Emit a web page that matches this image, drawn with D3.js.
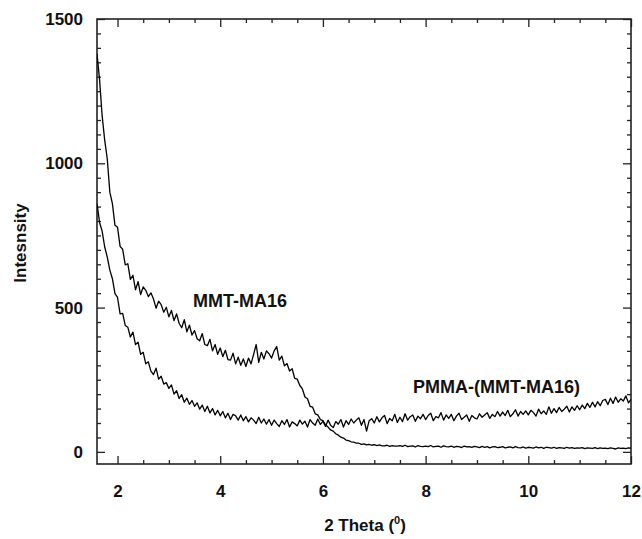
<!DOCTYPE html>
<html><head><meta charset="utf-8">
<script src="https://cdn.jsdelivr.net/npm/d3@7"></script>
<style>
body{margin:0;background:#fff;}
svg text{font-family:"Liberation Sans",Arial,Helvetica,sans-serif;font-weight:bold;fill:#111;}
</style>
</head><body>
<svg id="chart" width="642" height="539"></svg>
<script>
// 2-theta sampling positions (degrees)
const twoTheta = [
1.60,1.65,1.70,1.75,1.80,1.85,1.90,1.95,
2.00,2.05,2.10,2.15,2.20,2.25,2.30,2.35,2.40,2.45,
2.50,2.55,2.60,2.65,2.70,2.75,2.80,2.85,2.90,2.95,
3.00,3.05,3.10,3.15,3.20,3.25,3.30,3.35,3.40,3.45,
3.50,3.55,3.60,3.65,3.70,3.75,3.80,3.85,3.90,3.95,
4.00,4.05,4.10,4.15,4.20,4.25,4.30,4.35,4.40,4.45,
4.50,4.55,4.60,4.65,4.70,4.75,4.80,4.85,4.90,4.95,
5.00,5.05,5.10,5.15,5.20,5.25,5.30,5.35,5.40,5.45,
5.50,5.55,5.60,5.65,5.70,5.75,5.80,5.85,5.90,5.95,
6.00,6.05,6.10,6.15,6.20,6.25,6.30,6.35,6.40,6.45,
6.50,6.55,6.60,6.65,6.70,6.75,6.80,6.85,6.90,6.95,
7.00,7.05,7.10,7.15,7.20,7.25,7.30,7.35,7.40,7.45,
7.50,7.55,7.60,7.65,7.70,7.75,7.80,7.85,7.90,7.95,
8.00,8.05,8.10,8.15,8.20,8.25,8.30,8.35,8.40,8.45,
8.50,8.55,8.60,8.65,8.70,8.75,8.80,8.85,8.90,8.95,
9.00,9.05,9.10,9.15,9.20,9.25,9.30,9.35,9.40,9.45,
9.50,9.55,9.60,9.65,9.70,9.75,9.80,9.85,9.90,9.95,
10.00,10.05,10.10,10.15,10.20,10.25,10.30,10.35,10.40,10.45,
10.50,10.55,10.60,10.65,10.70,10.75,10.80,10.85,10.90,10.95,
11.00,11.05,11.10,11.15,11.20,11.25,11.30,11.35,11.40,11.45,
11.50,11.55,11.60,11.65,11.70,11.75,11.80,11.85,11.90,11.95,
12.00
];

// MMT-MA16 intensity
const mmtMA16 = [
1380,1290,1165,1080,1015,900,860,785,
778,712,702,648,652,598,612,562,590,545,
572,560,538,551,530,498,522,510,484,501,
468,490,455,478,445,430,458,416,439,405,
420,392,385,410,372,368,390,350,372,338,
360,330,352,320,318,342,305,328,300,322,
296,325,305,338,372,310,345,322,350,340,
325,350,365,318,332,298,306,280,288,255,
252,230,218,190,184,158,155,132,128,112,
108,94,86,76,72,63,58,51,48,41,
39,35,34,30,30,26,28,24,26,23,
25,22,24,21,21,23,19,22,20,20,
22,19,23,18,20,21,17,22,19,18,
20,18,22,17,19,20,16,21,18,17,
20,16,19,18,15,20,17,18,16,19,
17,15,19,16,18,14,17,18,15,16,
18,14,16,17,14,18,15,14,17,13,
16,15,13,17,14,16,12,16,15,13,
16,12,15,14,12,16,13,15,12,14,
13,15,11,14,13,12,15,11,14,12,
13,11,14,12,10,14,12,13,11,14,
13
];

// PMMA-(MMT-MA16) intensity
const pmmaMMT = [
860,795,765,710,675,630,600,548,
535,478,480,438,432,398,415,372,380,338,
345,305,312,280,268,290,252,262,235,240,
220,232,200,212,185,198,172,186,165,178,
158,170,148,162,140,158,135,150,128,144,
125,140,118,134,112,130,125,110,128,108,
122,104,118,110,98,120,100,114,96,112,
92,110,98,88,108,95,112,86,104,98,
90,110,96,106,86,112,100,92,114,95,
106,88,110,92,84,105,96,112,86,108,
95,114,100,110,118,92,112,72,108,115,
100,122,104,118,126,98,116,108,130,102,
120,105,132,110,122,128,106,124,115,130,
112,126,134,108,122,118,136,110,128,116,
130,108,124,134,112,120,128,106,126,118,
114,132,120,128,136,116,130,122,140,124,
138,126,144,122,132,146,124,140,130,142,
128,144,136,124,148,132,142,130,156,134,
150,136,154,140,148,158,138,156,144,160,
146,162,150,168,154,172,156,174,160,178,
182,164,186,168,190,172,184,176,194,170,
182
];

const xMajorTicks = [2,4,6,8,10,12];
const xMinorTicks = [2.5,3,3.5,4.5,5,5.5,6.5,7,7.5,8.5,9,9.5,10.5,11,11.5];
const yMajorTicks = [0,500,1000,1500];
const yMinorTicks = [50,100,150,200,250,300,350,400,450,550,600,650,700,750,800,850,900,950,1050,1100,1150,1200,1250,1300,1350,1400,1450];
const seriesLabels = ["MMT-MA16","PMMA-(MMT-MA16)"];
const xTitle = "2 Theta (";
const xTitleSup = "0";
const yTitle = "Intesnsity";

const L = 97, R = 631, T = 19, B = 464;
const svg = d3.select("#chart");
const x = d3.scaleLinear([1.6, 12], [L, R]);
const y = d3.scaleLinear([-42, 1500], [B, T]);

svg.append("defs").append("clipPath").attr("id","plotclip")
  .append("rect").attr("x",L).attr("y",T).attr("width",R-L).attr("height",B-T);

function styleAxis(g){
  g.select(".domain").remove();
  g.selectAll(".tick line").attr("stroke","#222").attr("stroke-width",1.3);
  g.selectAll("text").attr("font-size",17).attr("font-family",null).attr("fill","#111");
  g.attr("font-size",17).attr("font-family",null);
}

// bottom
svg.append("g").attr("transform",`translate(0,${B})`)
  .call(d3.axisBottom(x).tickValues(xMajorTicks).tickSizeInner(-8).tickSizeOuter(0).tickPadding(21).tickFormat(d3.format("d")))
  .call(styleAxis);
svg.append("g").attr("transform",`translate(0,${B})`)
  .call(d3.axisBottom(x).tickValues(xMinorTicks).tickSizeInner(-4).tickSizeOuter(0).tickFormat(""))
  .call(styleAxis);
// top
svg.append("g").attr("transform",`translate(0,${T})`)
  .call(d3.axisTop(x).tickValues(xMajorTicks).tickSizeInner(-8).tickSizeOuter(0).tickFormat(""))
  .call(styleAxis);
svg.append("g").attr("transform",`translate(0,${T})`)
  .call(d3.axisTop(x).tickValues(xMinorTicks).tickSizeInner(-4).tickSizeOuter(0).tickFormat(""))
  .call(styleAxis);
// left
svg.append("g").attr("transform",`translate(${L},0)`)
  .call(d3.axisLeft(y).tickValues(yMajorTicks).tickSizeInner(-8).tickSizeOuter(0).tickPadding(14).tickFormat(d3.format("d")))
  .call(styleAxis);
svg.append("g").attr("transform",`translate(${L},0)`)
  .call(d3.axisLeft(y).tickValues(yMinorTicks).tickSizeInner(-4).tickSizeOuter(0).tickFormat(""))
  .call(styleAxis);
// right
svg.append("g").attr("transform",`translate(${R},0)`)
  .call(d3.axisRight(y).tickValues(yMajorTicks).tickSizeInner(-8).tickSizeOuter(0).tickFormat(""))
  .call(styleAxis);
svg.append("g").attr("transform",`translate(${R},0)`)
  .call(d3.axisRight(y).tickValues(yMinorTicks).tickSizeInner(-4).tickSizeOuter(0).tickFormat(""))
  .call(styleAxis);

// frame
svg.append("rect").attr("x",L).attr("y",T).attr("width",R-L).attr("height",B-T)
  .attr("fill","none").attr("stroke","#222").attr("stroke-width",1.6);

// curves
const line = d3.line().x((d,i)=>x(twoTheta[i])).y(d=>y(d));
const plot = svg.append("g").attr("clip-path","url(#plotclip)");
[mmtMA16, pmmaMMT].forEach(s=>{
  plot.append("path").datum(s).attr("d",line)
    .attr("fill","none").attr("stroke","#000").attr("stroke-width",1.3).attr("stroke-linejoin","round");
});

// annotations
svg.append("text").attr("x",193).attr("y",307).attr("font-size",18).text(seriesLabels[0]);
svg.append("text").attr("x",413).attr("y",392.5).attr("font-size",18).text(seriesLabels[1]);

// axis titles
const xt = svg.append("text").attr("x",365).attr("y",531).attr("text-anchor","middle").attr("font-size",17);
xt.append("tspan").text(xTitle);
xt.append("tspan").attr("font-size",11).attr("dy",-7).text(xTitleSup);
xt.append("tspan").attr("font-size",17).attr("dy",7).text(")");

svg.append("text").attr("transform","translate(25.5,243) rotate(-90)")
  .attr("text-anchor","middle").attr("font-size",17).text(yTitle);
</script>
</body></html>
